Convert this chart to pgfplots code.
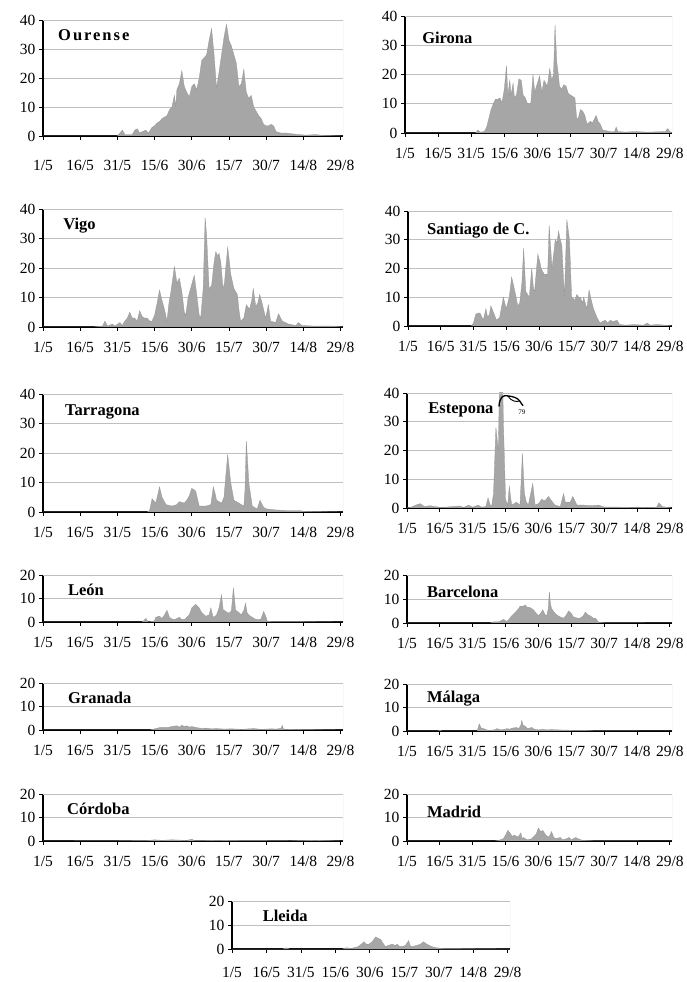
\documentclass[border=0pt]{standalone}
\usepackage{fontspec}
\setmainfont{Liberation Serif}
\usepackage{pgfplots}
\pgfplotsset{compat=1.18}
\definecolor{fillg}{RGB}{166,166,166}
\pgfplotsset{
 panel/.style={
  scale only axis, anchor=south west,
  xmin=0, xmax=121, ymin=0,
  axis x line*=bottom, axis y line*=left,
  axis line style={black, line width=1.1pt},
  xtick={0,15,...,120},
  xticklabels={1/5,16/5,31/5,15/6,30/6,15/7,30/7,14/8,29/8},
  tick align=outside, major tick length=4pt,
  tick style={black, line width=0.8pt},
  ymajorgrids, grid style={gray!50, line width=0.6pt},
  ticklabel style={font=\fontsize{15.5}{16}\selectfont},
  xticklabel style={yshift=-8pt},
  /pgf/number format/assume math mode=true,
  clip=true,
 },
 big/.style={ymax=40, ytick={0,10,20,30,40}},
 small/.style={ymax=20, ytick={0,10,20}},
 ser/.style={fill=fillg, draw=fillg!90!black, line width=0.3pt},
}
\newcommand{\frameit}{\draw[gray!50, line width=0.5pt] (rel axis cs:0,1) -- (rel axis cs:1,1) -- (rel axis cs:1,0);}
\newcommand{\ttl}[3]{\node[anchor=west, inner sep=0pt, font=\fontsize{16.5}{18}\bfseries\selectfont] at (rel axis cs:#1,#2) {#3};}
\begin{document}
\begin{tikzpicture}
\useasboundingbox (0pt,0pt) rectangle (686pt,982pt);
% Ourense
\begin{axis}[panel, big, at={(43pt,846pt)}, width=300pt, height=116pt, xticklabel style={yshift=-9pt}]
\addplot[ser] coordinates {(0,0)(30,0)(31,1)(32,2)(33,0.5)(36,0.5)(37,2)(38,2.5)(39,1)(40,1.5)(41.5,2)(42.5,1)(44,3)(45,3.5)(46,4.5)(47,5)(48,6)(49,6.5)(50,7)(51,9)(52,10)(53,14)(53.5,10)(54,16)(55,18)(56,22.5)(57,17)(58,15)(59,13.5)(60,17)(61,18)(62,16)(63,20)(64,26)(65,27)(66,28)(67,33)(68,37)(69,28)(70,16.5)(71,22)(72,28)(73,34)(74,38.5)(75,33)(76,31)(77,28)(78,25)(79,17)(80,18)(81,23)(82,15)(83,13)(84,14)(85,10)(86,8.5)(87,7)(88,6)(89,4)(90,3.5)(91,3.5)(92,4)(93,3.5)(94,1.5)(96,1)(98,1)(100,0.8)(103,0.5)(106,0.3)(110,0.5)(113,0.2)(121,0)} \closedcycle;
\frameit
\node[anchor=west, inner sep=0pt, font=\fontsize{16.5}{18}\bfseries\selectfont\addfontfeature{LetterSpace=12}] at (rel axis cs:0.05,0.87) {Ourense};
\end{axis}
% Girona
\begin{axis}[panel, big, at={(405pt,849pt)}, width=267pt, height=117pt]
\addplot[ser] coordinates {(0,0)(32,0)(33,1)(34,0.3)(36,0.5)(37,2)(38,5)(39,8)(40,10)(41,11.5)(42,11.5)(43,12)(44,10.5)(45,15)(46,23)(46.6,13)(47.5,18)(48,13)(49,17)(49.6,12)(50.5,13)(51.6,18.5)(52.7,18)(53.5,13)(54.5,12)(55.5,10)(57,10)(58,20)(58.8,14)(60,17)(61,19.5)(62,14)(63,18)(64.5,16)(65.6,22)(66.5,18)(67.3,20)(68,37)(68.8,24)(69.5,20)(70,16)(71,15)(72,16.5)(73,16)(74,13.5)(75,13)(76,12.5)(77,12)(77.8,5)(78.5,5)(79.5,8)(80.5,7.5)(81.5,6)(82.5,3)(84,4)(85,3.5)(86.6,6)(87.5,4)(88.5,3)(89.6,1)(91,0.8)(93,0.5)(95,0.5)(95.7,2)(96.5,0.5)(100,0.3)(104,0.5)(110,0.3)(118,0.5)(119,1.5)(120,0.5)(121,0)} \closedcycle;
\frameit
\ttl{0.064}{0.81}{Girona}
\end{axis}
% Vigo
\begin{axis}[panel, big, at={(43pt,655pt)}, width=300pt, height=118pt]
\addplot[ser] coordinates {(0,0)(20,0)(24,0.3)(25,2)(26,0.3)(28,1)(29,0.3)(31,1.5)(32,0.5)(33,2)(34,3)(35,5)(36,3)(37,3)(38,2)(39,5.5)(40,3.5)(41,3)(42,3)(43,2)(44,2)(45,4)(46,8)(47,12.5)(48,9)(49,6)(50,2)(50.8,8)(51.6,12)(53,20.5)(54,15)(55,16.5)(56,12)(57,5)(57.6,4)(58.5,10)(59.5,13)(61,17.5)(62,11)(63,4)(63.6,3)(64.6,13)(65.4,37)(66,31)(66.6,20)(67,13)(68,14)(69,22)(69.7,25.5)(70.5,24)(71,25)(71.7,22)(72.6,13)(73.2,15)(73.7,20)(74.5,27)(75.2,22)(75.7,18)(77,13)(78.4,11)(79,6)(79.7,2)(81,3)(82,7.5)(83.3,6)(84.2,9)(84.8,13)(85.8,7)(86.6,8)(87.4,11)(88.4,8)(89.8,3)(90.9,7.5)(91.8,2)(93.8,1.5)(95,4.5)(96.5,2)(99,1)(102,0.5)(103,1.5)(104.5,0.5)(110,0.3)(116.6,0.3)(121,0)} \closedcycle;
\frameit
\ttl{0.067}{0.86}{Vigo}
\end{axis}
% Santiago
\begin{axis}[panel, big, at={(408pt,656pt)}, width=264pt, height=115pt]
\addplot[ser] coordinates {(0,0)(29,0)(30,1)(31,4)(32,4.5)(33,4.5)(34.5,2)(35.7,6)(36.5,3)(37.3,4)(38,7)(39,5)(40.6,2)(42,3)(43.7,10)(45,6)(46.4,10)(47.5,17)(49,12)(50.3,7)(51.2,8)(52.2,15)(53,27)(54,12)(55.6,10)(56.7,20)(57.5,13)(58,12)(59.5,25)(60.5,22)(61,20)(62.4,18)(64,18)(64.7,35)(65.5,26)(66,20)(67.5,30)(68.3,29)(69,33)(69.8,30)(70.5,28)(71.7,10)(72.8,37)(73.5,33)(74,30)(75,10)(76.5,9)(77.4,11)(78.2,10)(79,10)(80,8)(80.5,10)(82,6)(83,12.5)(84,9)(85,6)(86.6,3)(88,1)(89,1.5)(90.4,2)(91.5,1)(92.7,2)(94,1.5)(95.8,2)(97,0.5)(100,0.3)(103.5,0.5)(108,0.3)(109.6,1)(111,0.3)(114,0.5)(118,0.3)(121,0)} \closedcycle;
\frameit
\ttl{0.072}{0.83}{Santiago de C.}
\end{axis}
% Tarragona
\begin{axis}[panel, big, at={(43pt,470pt)}, width=300pt, height=118pt]
\addplot[ser] coordinates {(0,0)(42,0)(43,0.5)(44,4.5)(45.5,3)(47,8.5)(48,5)(49.6,2.5)(52,2)(54,2.5)(55,3.5)(57,3)(58,4)(59,5.5)(60,8)(61,7.5)(61.6,7)(63,2)(65.6,2)(67.7,2.5)(68.7,8.5)(69.5,6)(70,4)(72,3)(73,5)(73.7,12)(74.5,19.5)(75.2,14)(75.7,10)(77,4)(79,3)(81,2)(81.5,8)(82,24)(82.6,16)(83,10)(84.4,2)(86.4,1)(87.5,4)(89,1.5)(90.4,1)(93.8,0.7)(98,0.5)(103,0.5)(106,0.2)(121,0)} \closedcycle;
\frameit
\ttl{0.073}{0.85}{Tarragona}
\end{axis}
% Estepona
\begin{axis}[panel, big, at={(407pt,474pt)}, width=265pt, height=115pt]
\addplot[ser] coordinates {(0,0)(2,0.3)(4,1)(6,1.5)(8,0.5)(10.4,0.8)(12.7,0.5)(16,0.2)(24,0.7)(26,0.2)(28,1)(30,0.3)(32.5,1)(34,0.3)(36,0.5)(37,3.5)(38,1)(38.6,0.5)(39.5,5)(40.6,28)(41.7,20)(43,79)(44,30)(45,3)(46,1)(46.7,7.5)(47.8,1)(50,2)(51.6,1)(52.7,19)(53.6,5)(54.5,2)(55.4,1)(57.4,8.5)(58.5,1)(60,1.5)(61.5,3)(63,2.5)(64.6,4)(66,2.5)(67.6,1)(70,0.5)(71.5,5)(72.3,2)(73,2)(74.5,2)(75.7,4)(77.6,1)(80.6,1)(83.7,0.8)(87.5,1)(90,0.3)(96,0.3)(110,0.2)(114,0.3)(115,1.8)(116.5,0.5)(121,0)} \closedcycle;
\frameit
\ttl{0.08}{0.85}{Estepona}
\draw[black, line width=1.3pt] (axis cs:42,35.3) .. controls (axis cs:42.3,38.8) and (axis cs:44,39.3) .. (axis cs:46,39) .. controls (axis cs:48.5,38.8) and (axis cs:50.5,38.3) .. (axis cs:51.5,37.2) .. controls (axis cs:52,36.5) and (axis cs:52.5,36) .. (axis cs:53,35.6);
\draw[black, line width=0.9pt] (axis cs:46,39) .. controls (axis cs:47.5,37.2) and (axis cs:49.5,36.8) .. (axis cs:51.5,37.2);
\node[font=\fontsize{7}{8}\selectfont, inner sep=0pt] at (axis cs:52.5,33.2) {79};
\end{axis}
% Leon
\begin{axis}[panel, small, at={(43pt,360pt)}, width=300pt, height=47pt]
\addplot[ser] coordinates {(0,0)(40,0)(41.5,1.5)(42.5,0)(45,0.5)(45.5,2)(47,2.5)(48,1.5)(49,3)(50,5)(51,2)(51.6,1.5)(53,1)(55,2)(56,1)(57,1)(58,2)(59,3)(60,6)(61,7)(61.6,7.5)(63,6)(64,4)(65.6,2.5)(67,3)(67.7,6)(68.5,2.5)(69,2)(70,3)(71,6)(72,11.5)(72.7,5)(73,5)(74.4,4)(75.5,4)(76,5)(76.8,14.5)(77.7,5)(79,4)(80,3)(81,5)(81.7,8)(82.3,4)(83,3)(84.4,2)(86,1)(87.8,1)(89,4.5)(90,2)(90.4,0.5)(92,0.2)(100,0.2)(121,0)} \closedcycle;
\frameit
\ttl{0.083}{0.68}{León}
\end{axis}
% Barcelona
\begin{axis}[panel, small, at={(407pt,359pt)}, width=265pt, height=48pt]
\addplot[ser] coordinates {(0,0)(38,0)(39.4,0.5)(42,0.5)(44,1.5)(45,1)(45.5,0.5)(46.5,1.5)(47.8,3)(49,4)(50,5)(51,6)(51.6,7)(53,7)(54,7.5)(55,6.5)(56,6.5)(57.7,5.5)(59,4)(60,3)(61,4)(62,5.5)(63,3.5)(63.8,3)(64.5,6)(65,13)(65.5,8)(66,6)(67.6,4)(69,3)(70,2.5)(71.5,2)(72.5,3)(73.8,5)(75,4)(76,2.5)(78,2)(79,2)(80.5,3)(81.4,4.5)(82.5,3.5)(83.7,3)(85,2)(86,2)(87.5,0.3)(90,0.1)(121,0)} \closedcycle;
\frameit
\ttl{0.075}{0.65}{Barcelona}
\end{axis}
% Granada
\begin{axis}[panel, small, at={(43pt,252pt)}, width=300pt, height=47pt]
\addplot[ser] coordinates {(0,0)(43,0)(45,0.5)(47,1)(50,1)(52,1.5)(54,1.8)(55,1.2)(56,2)(57,1.5)(58,1.8)(59,1.2)(60,1.5)(62,1)(64,0.7)(66,0.8)(68,0.5)(70,0.6)(73,0.4)(76,0.5)(80,0.3)(85,0.6)(88,0.3)(92,0.5)(94,0.4)(96,0.7)(96.5,2)(97,0.3)(121,0)} \closedcycle;
\frameit
\ttl{0.083}{0.68}{Granada}
\end{axis}
% Malaga
\begin{axis}[panel, small, at={(407pt,251pt)}, width=265pt, height=47pt]
\addplot[ser] coordinates {(0,0)(14,0)(15,0.3)(16,0)(32,0)(33,3)(34,1)(35,1)(37,0.3)(40,0.5)(41,1)(43,0.5)(45,0.8)(45.5,1)(47,0.8)(48,1.2)(50,1.5)(51,1)(52,2.5)(52.4,4.5)(53,2.5)(54,2)(55,1)(57,1.5)(58,0.8)(60,0.5)(62,0.7)(64,0.5)(66,0.6)(68,0.5)(72,0.4)(76,0.3)(80,0.3)(85,0.1)(121,0)} \closedcycle;
\frameit
\ttl{0.075}{0.68}{Málaga}
\end{axis}
% Cordoba
\begin{axis}[panel, small, at={(43pt,141pt)}, width=300pt, height=47pt]
\addplot[ser] coordinates {(0,0)(30,0.1)(42,0.2)(45,0.5)(48,0.3)(52,0.5)(55,0.4)(58,0.2)(60,0.8)(61,0.2)(65,0.2)(70,0.3)(80,0.2)(100,0.1)(110,0.3)(121,0)} \closedcycle;
\frameit
\ttl{0.08}{0.68}{Córdoba}
\end{axis}
% Madrid
\begin{axis}[panel, small, at={(407pt,141pt)}, width=265pt, height=47pt]
\addplot[ser] coordinates {(0,0)(40,0)(42,0.3)(44,1)(45,2.5)(46,4.5)(47,3.5)(48,2)(49,2.5)(50,2)(51,2)(52,3.5)(52.5,1)(53,1.5)(55,0.5)(57,1)(58,2)(59,3)(60,5.5)(61,4)(62,4.5)(63,3)(64,2)(65,2)(66,4)(67,1.5)(68,1)(70,1.5)(71,0.5)(73,1)(74,1.5)(75,0.5)(76,1)(77,1.5)(78,1)(80,0.3)(85,0.1)(121,0)} \closedcycle;
\frameit
\ttl{0.075}{0.62}{Madrid}
\end{axis}
% Lleida
\begin{axis}[panel, small, at={(232pt,33pt)}, width=278pt, height=48pt, xticklabel style={yshift=-3pt}]
\addplot[ser] coordinates {(0,0)(22,0)(23.7,0.5)(25,0)(48,0)(49.6,0.5)(52,0.3)(55,1)(57.5,3)(58.5,2)(59.6,2)(61,3)(62.5,5)(63.5,4.5)(64.7,4)(66,2)(66.8,1)(68,1.5)(69.7,2)(71,1.5)(71.9,2)(73,1)(74,1)(75.5,1.5)(76.9,3.5)(77.5,1.5)(78.3,1)(80.5,1.5)(82,2)(83.3,3)(84.8,2)(86.9,1)(89,0.5)(92,0.2)(121,0)} \closedcycle;
\frameit
\ttl{0.11}{0.69}{Lleida}
\end{axis}
\end{tikzpicture}
\end{document}
